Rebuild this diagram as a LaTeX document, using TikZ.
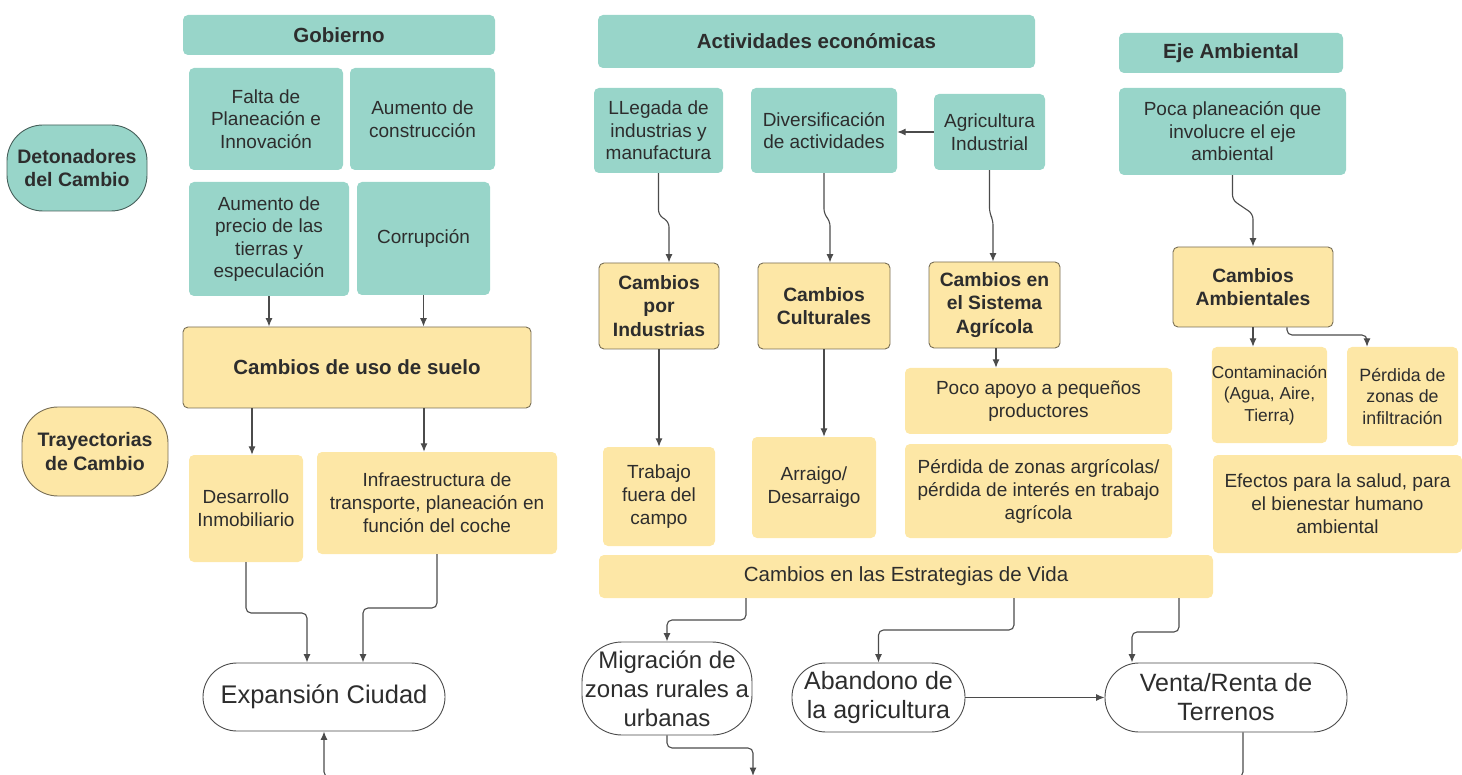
\documentclass[tikz,border=0pt]{standalone}
\usepackage{fontspec}
\setmainfont{Liberation Sans}
\usetikzlibrary{arrows.meta}

\definecolor{tealbox}{RGB}{152,213,201}
\definecolor{yellowbox}{RGB}{253,231,166}
\definecolor{yellowline}{RGB}{120,110,85}
\definecolor{darktext}{RGB}{45,45,45}
\definecolor{linegray}{RGB}{75,75,75}

\newcommand{\fsz}[2]{\fontsize{#1}{#2}\selectfont}

\begin{document}
\begin{tikzpicture}[x=1pt, y=-1pt]
	\tikzset{box/.style = {rectangle, rounded corners=5pt, align=center, inner sep=0pt, text=darktext}}
	\tikzset{cause/.style = {box, fill=tealbox, font=\fsz{19}{22.5}}}
	\tikzset{head/.style = {box, fill=tealbox, font=\fsz{20.5}{24}\bfseries}}
	\tikzset{change/.style = {box, fill=yellowbox, draw=yellowline, line width=0.9pt, font=\fsz{19.3}{23.5}\bfseries}}
	\tikzset{effect/.style = {box, fill=yellowbox, font=\fsz{19}{23}}}
	\tikzset{oval/.style = {box, draw, line width=0.9pt, rounded corners=36pt, font=\fsz{19.5}{23.5}\bfseries}}
	\tikzset{terminal/.style = {box, draw=linegray, fill=white, line width=0.9pt, rounded corners=34pt, font=\fsz{25}{29}}}
	\tikzset{edge/.style = {-{Latex[length=8.5pt,width=7pt]}, draw=linegray, line width=1.1pt, rounded corners=5pt}}
	\useasboundingbox (0,0) rectangle (1462,775);

	% Detonadores
	\node[oval, fill=tealbox, draw={rgb,255:red,70;green,95;blue,90}, minimum width=140, minimum height=86] (deton) at (77,168) {Detonadores\\del Cambio};
	\node[head, minimum width=312, minimum height=40] (gob) at (339,35) {Gobierno};
	\node[cause, minimum width=154, minimum height=102] (falta) at (266,119) {Falta de\\Planeación e\\Innovación};
	\node[cause, minimum width=145, minimum height=102] (aconst) at (422.5,119) {Aumento de\\construcción};
	\node[cause, minimum width=160, minimum height=114] (aprecio) at (269,239) {Aumento de\\precio de las\\tierras y\\especulación};
	\node[cause, minimum width=133, minimum height=113] (corr) at (423.5,238.5) {Corrupción};
	\node[head, minimum width=437, minimum height=53] (activ) at (816.5,41.5) {Actividades económicas};
	\node[cause, minimum width=129, minimum height=85] (llegada) at (658.5,130.5) {LLegada de\\industrias y\\manufactura};
	\node[cause, minimum width=146, minimum height=85] (divers) at (824,130.5) {Diversificación\\de actividades};
	\node[cause, minimum width=111, minimum height=76] (agri) at (989.5,132) {Agricultura\\Industrial};
	\node[head, minimum width=224, minimum height=40] (eje) at (1231,53) {Eje Ambiental};
	\node[cause, minimum width=227, minimum height=87] (poca) at (1232.5,131.5) {Poca planeación que\\involucre el eje\\ambiental};

	% Trayectorias
	\node[oval, fill=yellowbox, draw=yellowline, minimum width=146, minimum height=89] (tray) at (95,451.5) {Trayectorias\\de Cambio};
	\node[change, font=\fsz{20.5}{24}\bfseries, minimum width=348, minimum height=81] (usosuelo) at (357,367.5) {Cambios de uso de suelo};
	\node[change, minimum width=120, minimum height=86] (porind) at (659,306) {Cambios\\por\\Industrias};
	\node[change, minimum width=132, minimum height=86] (cultur) at (824,306) {Cambios\\Culturales};
	\node[change, minimum width=131, minimum height=86] (sistag) at (994.5,305) {Cambios en\\el Sistema\\Agrícola};
	\node[change, minimum width=160, minimum height=80] (ambient) at (1253,287) {Cambios\\Ambientales};
	\node[effect, minimum width=114, minimum height=107] (desarr) at (246,508.5) {Desarrollo\\Inmobiliario};
	\node[effect, minimum width=240, minimum height=102] (infra) at (437,503) {Infraestructura de\\transporte, planeación en\\función del coche};
	\node[effect, minimum width=112, minimum height=99] (trabajo) at (659,496.5) {Trabajo\\fuera del\\campo};
	\node[effect, minimum width=124, minimum height=101] (arraigo) at (814,487.5) {Arraigo/\\Desarraigo};
	\node[effect, minimum width=267, minimum height=66] (apoyo) at (1038.5,401) {Poco apoyo a pequeños\\productores};
	\node[effect, minimum width=267, minimum height=94] (perdag) at (1038.5,491) {Pérdida de zonas argrícolas/\\pérdida de interés en trabajo\\agrícola};
	\node[effect, font=\fsz{17.3}{21.5}, minimum width=113, minimum height=96] (contam) at (1269.5,395) {Contaminación\\(Agua, Aire,\\Tierra)};
	\node[effect, font=\fsz{17.8}{21.5}, minimum width=111, minimum height=99] (perdinf) at (1402.5,396.5) {Pérdida de\\zonas de\\infiltración};
	\node[effect, minimum width=249, minimum height=98] (efectos) at (1337.5,504) {Efectos para la salud, para\\el bienestar humano\\ambiental};
	\node[effect, font=\fsz{20.5}{24}, minimum width=614, minimum height=43] (estrat) at (906,576.5) {Cambios en las Estrategias de Vida};

	% resultados
	\node[terminal, font=\fsz{25.5}{29}, minimum width=242, minimum height=68] (expan) at (324,697) {Expansión Ciudad};
	\node[terminal, font=\fsz{24}{29}, rounded corners=40pt, minimum width=170, minimum height=93] (migr) at (667,688.5) {Migración de\\zonas rurales a\\urbanas};
	\node[terminal, minimum width=173, minimum height=69] (aband) at (878.5,697.5) {Abandono de\\la agricultura};
	\node[terminal, minimum width=242, minimum height=69] (venta) at (1226,697.5) {Venta/Renta de\\Terrenos};
	\coordinate (bottomline) at (753,776);

	\draw[edge] (aprecio.south) -- (aprecio.south |- usosuelo.north);
	\draw[edge] (corr.south) -- (corr.south |- usosuelo.north);
	\draw[edge] (usosuelo.south -| 252,0) -- (desarr.north -| 252,0);
	\draw[edge] (usosuelo.south -| 424,0) -- (infra.north -| 424,0);
	\draw[edge] (desarr.south) |- (307,613) -- (expan.north -| 307,0);
	\draw[edge] (infra.south) |- (363,608) -- (expan.north -| 363,0);
	\draw[edge] (venta.south -| 1243,0) |- (324,777) -- (expan.south);
	\draw[edge] (agri.west) -- (agri.west -| divers.east);
	\draw[edge] (llegada.south) -- (658.5,215) -- (669,222) -- (porind.north -| 669,0);
	\draw[edge] (divers.south) -- (824,214) -- (830,221) -- (cultur.north -| 830,0);
	\draw[edge] (agri.south) -- (989.5,213) -- (993,220) -- (sistag.north -| 993,0);
	\draw[edge] (poca.south) -- (1232.5,200) -- (1253,214) -- (ambient.north);
	\draw[edge] (porind) -- (trabajo);
	\draw[edge] (cultur.south) -- (cultur.south |- arraigo.north);
	\draw[edge] (sistag.south -| 996,0) -- (apoyo.north -| 996,0);
	\draw[edge] (ambient.south) -- (ambient.south |- contam.north);
	\draw[edge] (ambient.south -| 1287,0) |- (1367,335) -- (perdinf.north -| 1367,0);
	\draw[edge] (estrat.south -| 746,0) |- (667,620) -- (migr.north);
	\draw[edge] (estrat.south -| 1014,0) |- (878.5,630) -- (aband.north);
	\draw[edge] (estrat.south -| 1179,0) |- (1132,632) -- (venta.north -| 1132,0);
	\draw[edge] (aband) -- (venta);
	\draw[edge] (migr.south) |- (753,748) -- (bottomline);
\end{tikzpicture}
\end{document}
